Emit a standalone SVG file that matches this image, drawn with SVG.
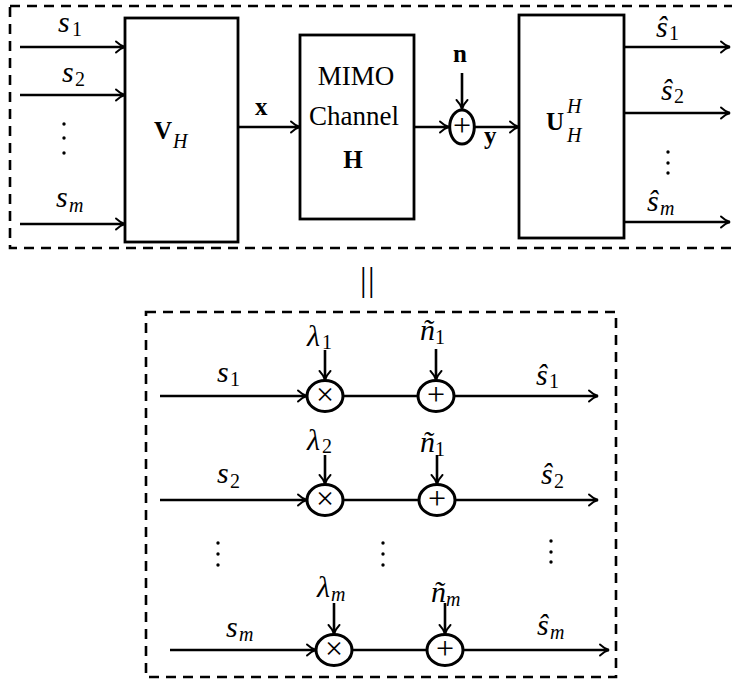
<svg xmlns="http://www.w3.org/2000/svg" width="732" height="681" viewBox="0 0 732 681">
<style>
.dash{fill:none;stroke:#000;stroke-width:2.6;stroke-dasharray:10 7}
.box{fill:#fff;stroke:#000;stroke-width:2.8}
.ln{fill:none;stroke:#000;stroke-width:2.6}
.arr{fill:none;stroke:#000;stroke-width:2.6;marker-end:url(#ah)}
.op{fill:#fff;stroke:#000;stroke-width:3}
.mi{font-family:"Liberation Serif",serif;font-style:italic;font-size:30px;fill:#000}
.sub{font-family:"Liberation Serif",serif;font-size:20px;fill:#000}
.subi{font-family:"Liberation Serif",serif;font-style:italic;font-size:20px;fill:#000}
.rm{font-family:"Liberation Serif",serif;font-size:27px;fill:#000}
.bf{font-family:"Liberation Serif",serif;font-weight:bold;font-size:25px;fill:#000}
.sym{font-family:"Liberation Serif",serif;font-size:32px;fill:#000;text-anchor:middle}
.dot{fill:#000}
</style>
<defs>
<marker id="ah" markerUnits="userSpaceOnUse" viewBox="-10 -7 12 14" refX="0" refY="0" markerWidth="12" markerHeight="14" orient="auto">
<path d="M-9,-5.5 C-5.5,-2.2 -2,-0.5 0,0 C-2,0.5 -5.5,2.2 -9,5.5" fill="none" stroke="#000" stroke-width="1.9" stroke-linecap="round"/>
</marker>
</defs>

<g id="frames">
<rect class="dash" x="10" y="6" width="724" height="242"/>
<rect class="dash" x="146" y="312" width="470" height="365"/>
<text x="368" y="291" font-family="Liberation Serif, serif" font-size="33" text-anchor="middle" letter-spacing="1.5">||</text>
</g>

<g id="connectors">
<line class="arr" x1="20" y1="47" x2="125" y2="47"/>
<line class="arr" x1="20" y1="95" x2="125" y2="95"/>
<line class="arr" x1="20" y1="224" x2="125" y2="224"/>
<line class="arr" x1="238" y1="127" x2="300" y2="127"/>
<line class="arr" x1="414" y1="127" x2="449" y2="127"/>
<line class="arr" x1="462" y1="73" x2="462" y2="109"/>
<line class="arr" x1="474" y1="127" x2="519" y2="127"/>
<line class="arr" x1="624" y1="47" x2="730" y2="47"/>
<line class="arr" x1="624" y1="113" x2="730" y2="113"/>
<line class="arr" x1="624" y1="222" x2="730" y2="222"/>

<line class="arr" x1="160" y1="396" x2="307" y2="396"/>
<line class="ln" x1="343" y1="396" x2="418" y2="396"/>
<line class="arr" x1="454" y1="396" x2="598" y2="396"/>
<line class="arr" x1="325" y1="350" x2="325" y2="380"/>
<line class="arr" x1="436" y1="349" x2="436" y2="380"/>

<line class="arr" x1="160" y1="500" x2="307" y2="500"/>
<line class="ln" x1="343" y1="500" x2="419" y2="500"/>
<line class="arr" x1="455" y1="500" x2="598" y2="500"/>
<line class="arr" x1="325" y1="455" x2="325" y2="484"/>
<line class="arr" x1="437" y1="455" x2="437" y2="484"/>

<line class="arr" x1="170" y1="650" x2="316" y2="650"/>
<line class="ln" x1="352" y1="650" x2="427" y2="650"/>
<line class="arr" x1="463" y1="650" x2="609" y2="650"/>
<line class="arr" x1="334" y1="603" x2="334" y2="634"/>
<line class="arr" x1="445" y1="603" x2="445" y2="634"/>
</g>

<g id="inputs-top">
<text><tspan class="mi" x="58" y="32">s</tspan><tspan class="sub" x="72" y="36">1</tspan></text>
<text><tspan class="mi" x="62" y="82">s</tspan><tspan class="sub" x="75" y="86">2</tspan></text>
<text><tspan class="mi" x="56" y="207">s</tspan><tspan class="subi" x="69" y="212">m</tspan></text>
<circle class="dot" cx="64" cy="124" r="1.7"/>
<circle class="dot" cx="64" cy="138" r="1.7"/>
<circle class="dot" cx="64" cy="153" r="1.7"/>
</g>

<g id="VH">
<rect class="box" x="125" y="18" width="113" height="224"/>
<text><tspan class="bf" x="154" y="139">V</tspan><tspan class="subi" x="173" y="148">H</tspan></text>
</g>

<g id="x-label">
<text class="bf" x="255" y="115">x</text>
</g>

<g id="channel">
<rect class="box" x="300" y="35" width="114" height="184"/>
<text class="rm" x="356" y="85" text-anchor="middle">MIMO</text>
<text class="rm" x="354" y="125" text-anchor="middle">Channel</text>
<text class="bf" x="353" y="168" text-anchor="middle">H</text>
</g>

<g id="sum-top">
<ellipse class="op" cx="462" cy="127" rx="12.3" ry="17"/>
<text class="sym" x="462" y="136">+</text>
<text class="bf" x="453" y="62">n</text>
<text class="bf" x="484" y="144">y</text>
</g>

<g id="UH">
<rect class="box" x="519" y="15" width="105" height="223"/>
<text><tspan class="bf" x="546" y="130">U</tspan><tspan class="subi" x="567" y="113">H</tspan><tspan class="subi" x="567" y="142">H</tspan></text>
</g>

<g id="outputs-top">
<text><tspan class="mi" x="656" y="37">ŝ</tspan><tspan class="sub" x="669" y="40">1</tspan></text>
<text><tspan class="mi" x="661" y="100">ŝ</tspan><tspan class="sub" x="674" y="103">2</tspan></text>
<text><tspan class="mi" x="647" y="211">ŝ</tspan><tspan class="subi" x="660" y="215">m</tspan></text>
<circle class="dot" cx="668" cy="152" r="1.7"/>
<circle class="dot" cx="668" cy="163" r="1.7"/>
<circle class="dot" cx="668" cy="173" r="1.7"/>
</g>

<g id="row1">
<ellipse class="op" cx="325" cy="396" rx="18" ry="15.5"/>
<text class="sym" x="325" y="405">×</text>
<ellipse class="op" cx="436" cy="396" rx="18" ry="15.5"/>
<text class="sym" x="436" y="405">+</text>
<text><tspan class="mi" x="307" y="346">λ</tspan><tspan class="sub" x="322" y="349">1</tspan></text>
<text><tspan class="mi" x="420" y="340">ñ</tspan><tspan class="sub" x="435" y="344">1</tspan></text>
<text><tspan class="mi" x="217" y="382">s</tspan><tspan class="sub" x="230" y="386">1</tspan></text>
<text><tspan class="mi" x="536" y="385">ŝ</tspan><tspan class="sub" x="549" y="388">1</tspan></text>
</g>

<g id="row2">
<ellipse class="op" cx="325" cy="500" rx="18" ry="15.5"/>
<text class="sym" x="325" y="509">×</text>
<ellipse class="op" cx="437" cy="500" rx="18" ry="15.5"/>
<text class="sym" x="437" y="509">+</text>
<text><tspan class="mi" x="307" y="450">λ</tspan><tspan class="sub" x="322" y="453">2</tspan></text>
<text><tspan class="mi" x="420" y="452">ñ</tspan><tspan class="sub" x="435" y="456">1</tspan></text>
<text><tspan class="mi" x="217" y="483">s</tspan><tspan class="sub" x="230" y="488">2</tspan></text>
<text><tspan class="mi" x="541" y="484">ŝ</tspan><tspan class="sub" x="554" y="488">2</tspan></text>
</g>

<g id="dots-mid">
<circle class="dot" cx="218" cy="543" r="1.7"/>
<circle class="dot" cx="218" cy="554" r="1.7"/>
<circle class="dot" cx="218" cy="565" r="1.7"/>
<circle class="dot" cx="383" cy="543" r="1.7"/>
<circle class="dot" cx="383" cy="554" r="1.7"/>
<circle class="dot" cx="383" cy="565" r="1.7"/>
<circle class="dot" cx="551" cy="541" r="1.7"/>
<circle class="dot" cx="551" cy="552" r="1.7"/>
<circle class="dot" cx="551" cy="562" r="1.7"/>
</g>

<g id="rowm">
<ellipse class="op" cx="334" cy="650" rx="18" ry="15.5"/>
<text class="sym" x="334" y="659">×</text>
<ellipse class="op" cx="445" cy="650" rx="18" ry="15.5"/>
<text class="sym" x="445" y="659">+</text>
<text><tspan class="mi" x="317" y="597">λ</tspan><tspan class="subi" x="331" y="601">m</tspan></text>
<text><tspan class="mi" x="431" y="602">ñ</tspan><tspan class="subi" x="446" y="606">m</tspan></text>
<text><tspan class="mi" x="226" y="637">s</tspan><tspan class="subi" x="239" y="641">m</tspan></text>
<text><tspan class="mi" x="537" y="635">ŝ</tspan><tspan class="subi" x="550" y="639">m</tspan></text>
</g>
</svg>
